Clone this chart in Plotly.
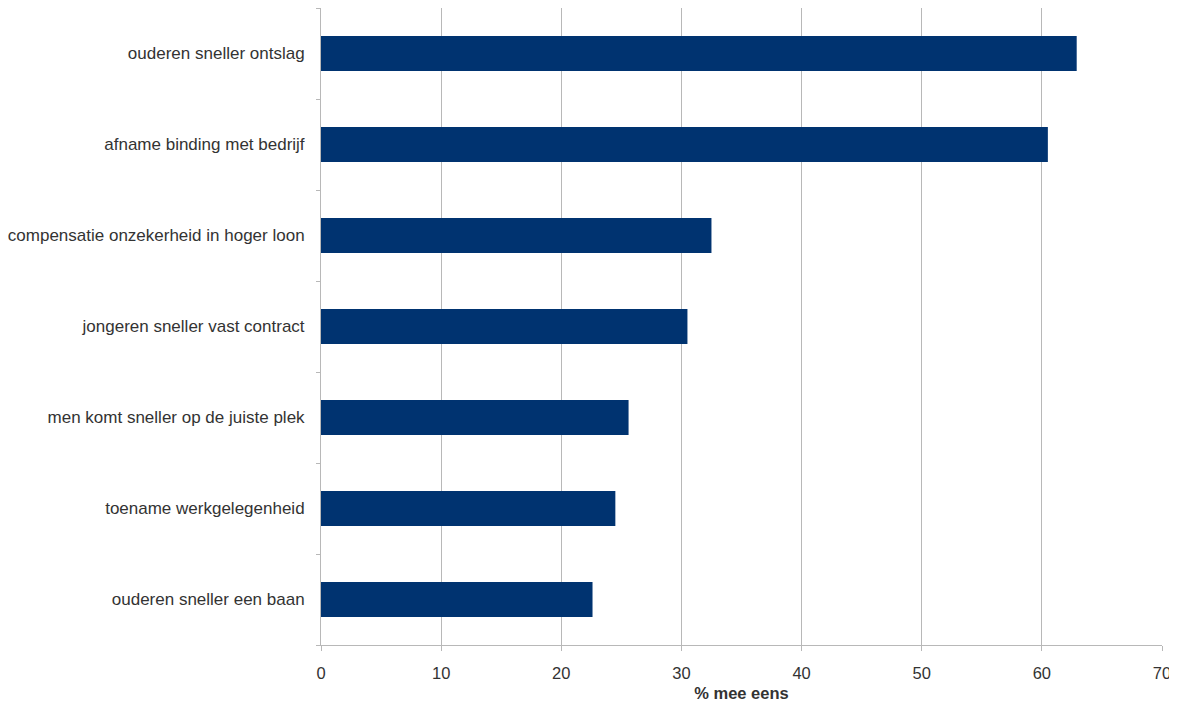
import plotly.graph_objects as go

categories = [
    "ouderen sneller ontslag",
    "afname binding met bedrijf",
    "compensatie onzekerheid in hoger loon",
    "jongeren sneller vast contract",
    "men komt sneller op de juiste plek",
    "toename werkgelegenheid",
    "ouderen sneller een baan",
]
values = [62.9, 60.5, 32.5, 30.5, 25.6, 24.5, 22.6]
x_ticks = [0, 10, 20, 30, 40, 50, 60, 70]

font_family = "Liberation Sans, Arial, sans-serif"

fig = go.Figure(
    go.Bar(
        y=categories,
        x=values,
        orientation="h",
        marker=dict(color="#003370", line=dict(width=0)),
        width=0.385,
    )
)

fig.update_layout(
    width=1169,
    height=694,
    margin=dict(l=313, r=15, t=0, b=57, autoexpand=False),
    plot_bgcolor="white",
    paper_bgcolor="white",
    showlegend=False,
    font=dict(family=font_family, size=17, color="#333333"),
)

fig.update_xaxes(
    range=[0, 70],
    tickvals=x_ticks,
    ticktext=[str(v) for v in x_ticks],
    showgrid=True,
    gridcolor="#b8b8b8",
    gridwidth=1,
    showline=True,
    linecolor="#b8b8b8",
    linewidth=1,
    ticks="outside",
    ticklen=5,
    tickcolor="#b8b8b8",
    zeroline=False,
    automargin=False,
    ticklabelstandoff=8,
    tickfont=dict(size=16.5, family=font_family, color="#333333"),
    title=dict(
        text="<b>% mee eens</b>",
        font=dict(size=16.5, family=font_family, color="#333333"),
        standoff=6,
    ),
)

fig.update_yaxes(
    categoryorder="array",
    categoryarray=categories[::-1],
    autorange=False,
    range=[-0.5, 6.5],
    showline=True,
    linecolor="#b8b8b8",
    linewidth=1,
    ticks="outside",
    tickson="boundaries",
    ticklen=4,
    tickcolor="#b8b8b8",
    showgrid=False,
    zeroline=False,
    automargin=False,
    tickfont=dict(size=17, family=font_family, color="#333333"),
    ticklabelstandoff=12,
)

fig.write_html("out.html")
